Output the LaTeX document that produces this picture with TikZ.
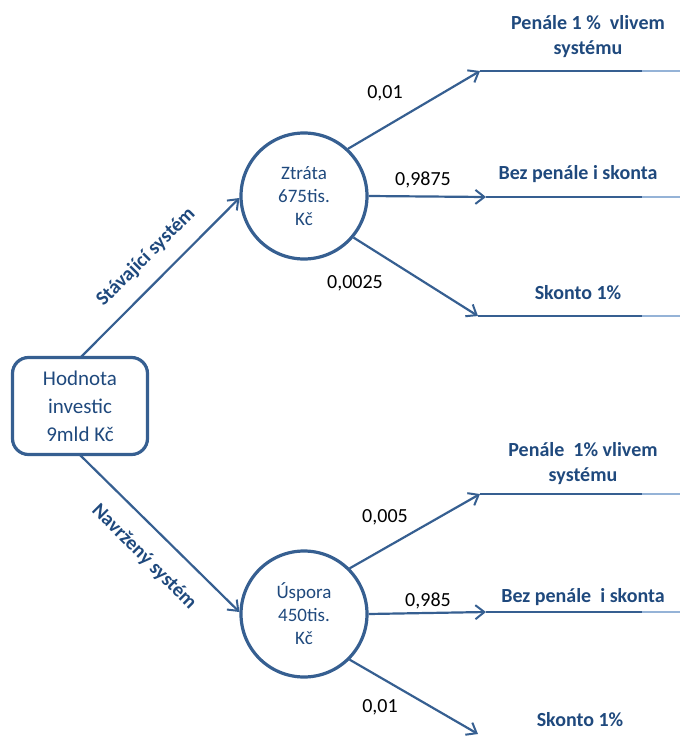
\documentclass[tikz,border=0pt]{standalone}
\usepackage{fontspec}
\setmainfont{Carlito}
\usetikzlibrary{arrows.meta}
\definecolor{lineblue}{HTML}{365F91}
\definecolor{textblue}{HTML}{1F497D}
\definecolor{fadeblue}{HTML}{95B3D7}
\tikzset{
  conn/.style={draw=lineblue, line width=2.2pt, -{Straight Barb[length=9pt,width=14pt,line width=2pt]}},
  hline/.style={draw=lineblue, line width=2.4pt},
  fade/.style={draw=fadeblue, line width=2.4pt},
  outcome/.style={text=textblue, font=\bfseries\fontsize{20}{25}\selectfont, align=center},
  prob/.style={text=black, font=\fontsize{20}{24}\selectfont},
  circ/.style={circle, draw=lineblue, line width=3.2pt, minimum size=126pt, inner sep=0pt, text=textblue, align=center, font=\fontsize{19}{23}\selectfont},
  branch/.style={text=textblue, font=\bfseries\fontsize{20}{24}\selectfont},
}
\begin{document}
\begin{tikzpicture}[x=1pt,y=-1pt]
\useasboundingbox (0,0) rectangle (680,736);
\node[draw=lineblue, line width=3.2pt, rounded corners=16pt, minimum width=135pt, minimum height=97pt, align=center, text=textblue, font=\fontsize{21}{28}\selectfont] (root) at (80,406) {Hodnota\\investic\\9mld Kč};
\node[circ] (c1) at (304,196) {Ztráta\\675tis.\\Kč};
\node[circ] (c2) at (304,614) {Úspora\\450tis.\\Kč};

\coordinate (r1s) at (80,358);
\coordinate (r2s) at (80,455);
\draw[conn] (r1s) -- (c1.west |- 0,198) coordinate (r1e);
\draw[conn] (r2s) -- (c2.west |- 0,612) coordinate (r2e);
\node[branch, rotate=45] (b1) at (146,257) {Stávající systém};
\node[branch, rotate=-45] (b2) at (144,557) {Navržený systém};

% top branches
\coordinate (a1) at (480,71);
\coordinate (a2) at (486,197);
\coordinate (a3) at (478,316);
\coordinate (e1) at (680,71);
\coordinate (e2) at (680,197);
\coordinate (e3) at (680,316);
\coordinate (f1) at (642,71);
\coordinate (f2) at (642,197);
\coordinate (f3) at (642,316);
\draw[conn] (c1.47) -- (a1);
\draw[conn] (c1.east) -- (a2);
\draw[conn] (c1.-40) -- (a3);
\draw[hline] (a1) -- (f1); \draw[fade] (f1) -- (e1);
\draw[hline] (a2) -- (f2); \draw[fade] (f2) -- (e2);
\draw[hline] (a3) -- (f3); \draw[fade] (f3) -- (e3);
\node[prob] (p1) at (385,93) {0,01};
\node[prob] (p2) at (423,180) {0,9875};
\node[prob] (p3) at (355,283) {0,0025};
\node[outcome] (o1) at (588,37) {Penále 1 \%\ \ vlivem\\systému};
\node[outcome] (o2) at (578,174) {Bez penále i skonta};
\node[outcome] (o3) at (578,293) {Skonto 1\%};

% bottom branches
\coordinate (g1) at (480,494);
\coordinate (g2) at (486,612);
\coordinate (g3) at (478,734);
\coordinate (h1) at (680,494);
\coordinate (h2) at (680,612);
\coordinate (k1) at (642,494);
\coordinate (k2) at (642,612);
\draw[conn] (c2.45) -- (g1);
\draw[conn] (c2.east) -- (g2);
\draw[conn] (c2.-45) -- (g3);
\draw[hline] (g1) -- (k1); \draw[fade] (k1) -- (h1);
\draw[hline] (g2) -- (k2); \draw[fade] (k2) -- (h2);
\node[prob] (q1) at (385,517) {0,005};
\node[prob] (q2) at (428,601) {0,985};
\node[prob] (q3) at (380,707) {0,01};
\node[outcome] (u1) at (583,464) {Penále\ \ 1\% vlivem\\systému};
\node[outcome] (u2) at (583,597) {Bez penále\ \ i skonta};
\node[outcome] (u3) at (580,720) {Skonto 1\%};
\end{tikzpicture}
\end{document}
